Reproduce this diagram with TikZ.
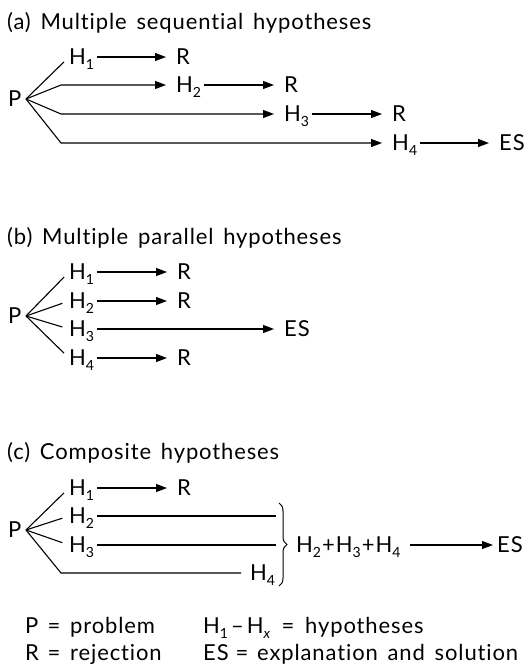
\documentclass[tikz,border=0pt]{standalone}
\usepackage{fontspec}
\setmainfont{Lato}[Ligatures=NoCommon, WordSpace=1.5, LetterSpace=4]
\usetikzlibrary{arrows.meta,decorations.pathreplacing}
% hypothesis label with a large, well-lowered index
\newcommand{\sub}[1]{\raisebox{-4.5pt}{\fontsize{14}{14}\selectfont #1}}
\newcommand{\Hs}[1]{H\sub{#1}}
\begin{document}
\begin{tikzpicture}[x=1pt,y=-1pt,
  every node/.style={font=\fontsize{22}{26}\selectfont, text=black},
  lbl/.style={inner sep=0pt, anchor=west, text height=15.8pt, text depth=0pt},
  eq/.style={inner sep=0pt, anchor=center, text height=15.8pt, text depth=0pt},
  ln/.style={line width=1.1pt, draw=black},
  arr/.style={ln, -{Triangle[length=11pt,width=8pt]}, shorten <=3pt, shorten >=10pt},
  fork/.style={ln, shorten >=7pt},
  bracestyle/.style={ln, line width=1pt, decorate, decoration={brace, amplitude=8pt}}
]
\useasboundingbox (0,0) rectangle (525,670);

% ---------- (a) sequential ----------
\node[lbl] (ta) at (7,22) {(a) Multiple sequential hypotheses};
\node[lbl] (pa) at (8,99) {P};
\coordinate (pax) at (26,99);
\node[lbl] (h1a) at (69,57) {\Hs{1}};
\node[lbl] (r1a) at (176,57) {R};
\node[lbl] (h2a) at (176,85) {\Hs{2}};
\node[lbl] (r2a) at (284,85) {R};
\node[lbl] (h3a) at (284,114) {\Hs{3}};
\node[lbl] (r3a) at (392,114) {R};
\node[lbl] (h4a) at (392,143) {\Hs{4}};
\node[lbl] (esa) at (499,143) {ES};
\draw[fork] (pax) -- (h1a.west);
\draw[arr, shorten <=0pt] (pax) -- (61,85) -- (h2a.west);
\draw[arr, shorten <=0pt] (pax) -- (61,114) -- (h3a.west);
\draw[arr, shorten <=0pt] (pax) -- (61,143) -- (h4a.west);
\draw[arr] (h1a.east) -- (r1a.west);
\draw[arr] (h2a.east) -- (r2a.west);
\draw[arr] (h3a.east) -- (r3a.west);
\draw[arr] (h4a.east) -- (esa.west);

% ---------- (b) parallel ----------
\node[lbl] (tb) at (7,237) {(b) Multiple parallel hypotheses};
\node[lbl] (pb) at (8,316) {P};
\coordinate (pbx) at (26,316);
\node[lbl] (h1b) at (69,272) {\Hs{1}};
\node[lbl] (h2b) at (69,301) {\Hs{2}};
\node[lbl] (h3b) at (69,329) {\Hs{3}};
\node[lbl] (h4b) at (69,358) {\Hs{4}};
\node[lbl] (r1b) at (177,272) {R};
\node[lbl] (r2b) at (177,301) {R};
\node[lbl] (esb) at (284,329) {ES};
\node[lbl] (r4b) at (177,358) {R};
\foreach \h in {h1b,h2b,h3b,h4b}
  \draw[fork] (pbx) -- (\h.west);
\draw[arr] (h1b.east) -- (r1b.west);
\draw[arr] (h2b.east) -- (r2b.west);
\draw[arr] (h3b.east) -- (esb.west);
\draw[arr] (h4b.east) -- (r4b.west);

% ---------- (c) composite ----------
\node[lbl] (tc) at (7,452) {(c) Composite hypotheses};
\node[lbl] (pc) at (8,530) {P};
\coordinate (pcx) at (26,530);
\node[lbl] (h1c) at (69,488) {\Hs{1}};
\node[lbl] (h2c) at (69,516) {\Hs{2}};
\node[lbl] (h3c) at (69,545) {\Hs{3}};
\node[lbl] (h4c) at (250,573) {\Hs{4}};
\node[lbl] (r1c) at (177,488) {R};
\coordinate (bt) at (279,503);
\coordinate (bb) at (279,586);
\node[lbl] (sum) at (296,545) {\Hs{2}\kern1pt+\kern1pt\Hs{3}\kern1pt+\kern1pt\Hs{4}};
\node[lbl] (esc) at (497,545) {ES};
\draw[fork] (pcx) -- (h1c.west);
\draw[fork] (pcx) -- (h2c.west);
\draw[fork] (pcx) -- (h3c.west);
\draw[ln, shorten >=9pt] (pcx) -- (61,573) -- (h4c.west);
\draw[arr] (h1c.east) -- (r1c.west);
\draw[ln, shorten <=3pt, shorten >=3pt] (h2c.east) -- (h2c.east -| bt);
\draw[ln, shorten <=3pt, shorten >=3pt] (h3c.east) -- (h3c.east -| bt);
\draw[bracestyle] (bt) -- (bb);
\draw[arr, shorten <=9pt, shorten >=4pt] (sum.east) -- (esc.west);

% ---------- key ----------
\node[lbl] (kp) at (25,626) {P};
\node[eq]  (kpe) at (54,626) {=};
\node[lbl] (kpw) at (70,626) {problem};
\node[lbl] (kr) at (25,653) {R};
\node[eq]  (kre) at (54,653) {=};
\node[lbl] (krw) at (70,653) {rejection};
\node[lbl] (kh) at (203,626) {H\sub{1}\hspace{3pt}--\hspace{3pt}H\sub{\itshape x}};
\node[eq]  (khe) at (288,626) {=};
\node[lbl] (khw) at (305,626) {hypotheses};
\node[lbl] (ke) at (203,653) {ES};
\node[eq]  (kee) at (242,653) {=};
\node[lbl] (kew) at (257,653) {explanation and solution};
\end{tikzpicture}
\end{document}
